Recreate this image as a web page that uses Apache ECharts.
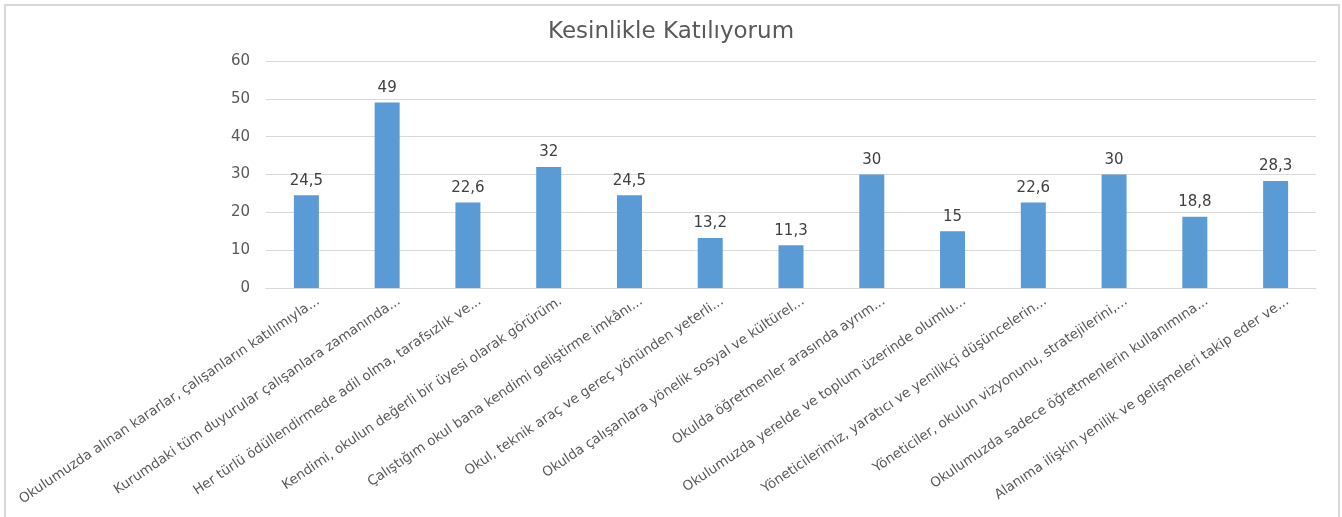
<!DOCTYPE html>
<html><head><meta charset="utf-8">
<script src="https://cdn.jsdelivr.net/npm/echarts@6/dist/echarts.min.js"></script>
<style>html,body{margin:0;padding:0;background:#fff}#c{width:1342px;height:517px}</style>
</head><body><div id="c"></div>
<script>
const title = "Kesinlikle Katılıyorum";
const categories = [
  "Okulumuzda alınan kararlar, çalışanların katılımıyla...",
  "Kurumdaki tüm duyurular çalışanlara zamanında...",
  "Her türlü ödüllendirmede adil olma, tarafsızlık ve...",
  "Kendimi, okulun değerli bir üyesi olarak görürüm.",
  "Çalıştığım okul bana kendimi geliştirme imkânı...",
  "Okul, teknik araç ve gereç yönünden yeterli...",
  "Okulda çalışanlara yönelik sosyal ve kültürel...",
  "Okulda öğretmenler arasında ayrım...",
  "Okulumuzda yerelde ve toplum üzerinde olumlu...",
  "Yöneticilerimiz, yaratıcı ve yenilikçi düşüncelerin...",
  "Yöneticiler, okulun vizyonunu, stratejilerini,...",
  "Okulumuzda sadece öğretmenlerin kullanımına...",
  "Alanıma ilişkin yenilik ve gelişmeleri takip eder ve..."
];
const values = [24.5, 49, 22.6, 32, 24.5, 13.2, 11.3, 30, 15, 22.6, 30, 18.8, 28.3];
const yTicks = {min: 0, max: 60, interval: 10};

const chart = echarts.init(document.getElementById('c'));
const font = '"DejaVu Sans", "Noto Sans", sans-serif';
chart.setOption({
  animation: false,
  backgroundColor: '#fff',
  graphic: [{
    type: 'rect', shape: {x: 5, y: 5, width: 1334, height: 520},
    style: {fill: 'none', stroke: '#d9d9d9', lineWidth: 2}, silent: true
  }],
  title: {
    text: title, left: 'center', top: 16,
    textStyle: {fontFamily: font, fontSize: 23, fontWeight: 'normal', color: '#595959'}
  },
  grid: [
    {left: 266, right: 26, top: 61, bottom: 229, containLabel: false},
    {left: 278, right: 14, top: 61, bottom: 229, containLabel: false}
  ],
  xAxis: [{
    type: 'category', data: categories, gridIndex: 0,
    axisLine: {lineStyle: {color: '#d9d9d9', width: 1}},
    axisTick: {show: false},
    axisLabel: {show: false}
  }, {
    type: 'category', data: categories, gridIndex: 1,
    axisLine: {show: false}, axisTick: {show: false},
    axisLabel: {interval: 0, rotate: 34, margin: 12, fontFamily: font, fontSize: 13.5, color: '#595959'}
  }],
  yAxis: [{
    type: 'value', gridIndex: 0, min: yTicks.min, max: yTicks.max, interval: yTicks.interval,
    axisLine: {show: false}, axisTick: {show: false},
    axisLabel: {fontFamily: font, fontSize: 15, color: '#595959', margin: 16},
    splitLine: {lineStyle: {color: '#d9d9d9', width: 1}}
  }, {
    type: 'value', gridIndex: 1, min: yTicks.min, max: yTicks.max, interval: yTicks.interval,
    show: false
  }],
  series: [{
    type: 'bar', data: values, barWidth: 25, xAxisIndex: 0, yAxisIndex: 0,
    itemStyle: {color: '#5b9bd5'},
    label: {
      show: true, position: 'top', distance: 7,
      fontFamily: font, fontSize: 15, color: '#404040',
      formatter: p => String(p.value).replace('.', ',')
    }
  }]
});
</script></body></html>
